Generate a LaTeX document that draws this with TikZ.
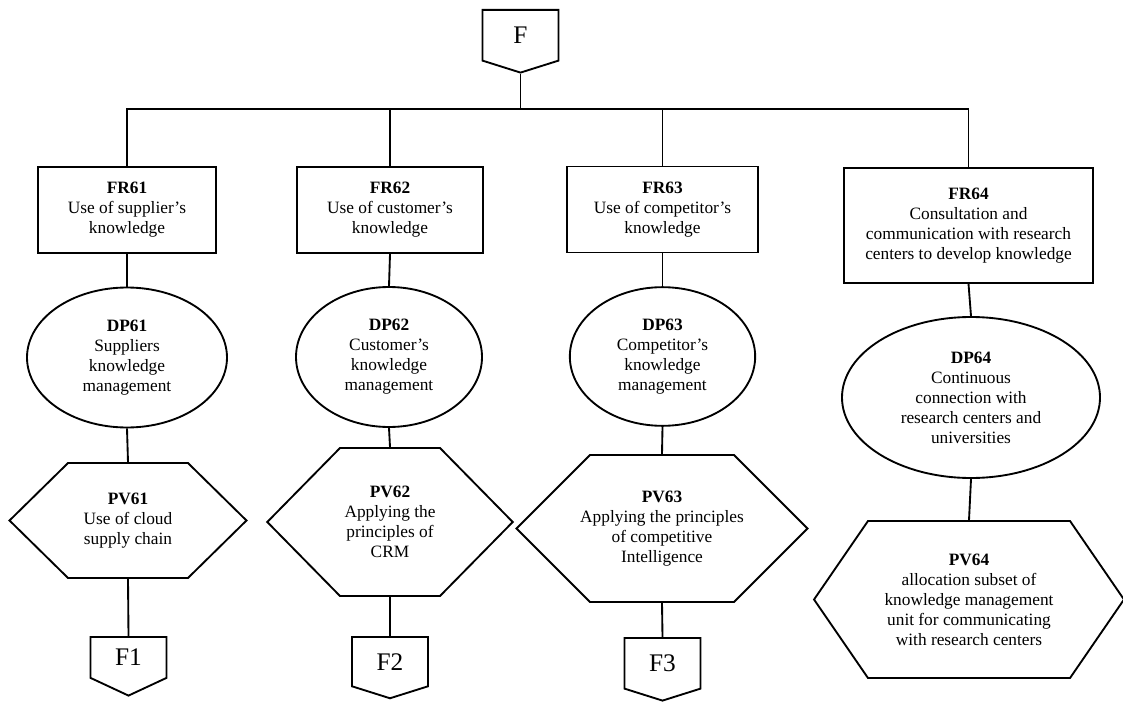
\documentclass[tikz,border=0pt]{standalone}
\usepackage{fontspec}
\setmainfont{Liberation Serif}
\usetikzlibrary{shapes.geometric,shapes.symbols}

\begin{document}
\begin{tikzpicture}[x=0.75pt,y=-0.75pt,line width=1.4pt,
  every node/.style={font=\fontsize{13}{15}\selectfont,align=center},
  frbox/.style={draw,rectangle,inner sep=0pt},
  dpell/.style={draw,ellipse,inner sep=0pt},
  pvhex/.style={draw,signal,signal to=east and west,signal from=nowhere,minimum width=0pt,minimum height=0pt},
  fsig/.style={draw,signal,signal to=south,signal from=nowhere,signal pointer angle=145,text width=57pt,inner xsep=0pt,inner ysep=0pt,minimum height=46pt,anchor=north,font=\fontsize{19}{22}\selectfont}]
\useasboundingbox (0,0) rectangle (1123,702);

\node[fsig,minimum height=47pt] (f) at (520.5,9) {F};
\coordinate (bus) at (520.5,109);

\node[frbox,minimum width=133pt,minimum height=64.5pt] (fr61) at (127,210) {\textbf{FR61}\\Use of supplier’s\\knowledge};
\node[frbox,minimum width=139.5pt,minimum height=64.5pt] (fr62) at (390,210) {\textbf{FR62}\\Use of customer’s\\knowledge};
\node[frbox,minimum width=143pt,minimum height=64.5pt] (fr63) at (662.5,209.5) {\textbf{FR63}\\Use of competitor’s\\knowledge};
\node[frbox,minimum width=187pt,minimum height=86pt] (fr64) at (968.5,225.5) {\textbf{FR64}\\Consultation and\\communication with research\\centers to develop knowledge};

\node[dpell,minimum width=150pt,minimum height=105pt] (dp61) at (127,357.5) {\textbf{DP61}\\Suppliers\\knowledge\\management};
\node[dpell,minimum width=139.5pt,minimum height=105pt] (dp62) at (389,357) {\textbf{DP62}\\Customer’s\\knowledge\\management};
\node[dpell,minimum width=139pt,minimum height=104pt] (dp63) at (662.5,356.5) {\textbf{DP63}\\Competitor’s\\knowledge\\management};
\node[dpell,minimum width=193.5pt,minimum height=120.75pt] (dp64) at (971,397.5) {\textbf{DP64}\\Continuous\\connection with\\research centers and\\universities};

\node[pvhex,inner xsep=45pt,inner ysep=43.1pt,signal pointer angle=89,
  label={center:{\textbf{PV61}\\Use of cloud\\supply chain}}] (pv61) at (128,520.5) {};
\node[pvhex,inner xsep=37.5pt,inner ysep=55.5pt,signal pointer angle=91,
  label={center:{\textbf{PV62}\\Applying the\\principles of\\CRM}}] (pv62) at (390,522) {};
\node[pvhex,inner xsep=54pt,inner ysep=55.1pt,signal pointer angle=90,
  label={center:{\textbf{PV63}\\Applying the principles\\of competitive\\Intelligence}}] (pv63) at (662,528.5) {};
\node[pvhex,inner xsep=75.75pt,inner ysep=58.9pt,signal pointer angle=111,
  label={center:{\textbf{PV64}\\allocation subset of\\knowledge management\\unit for communicating\\with research centers}}] (pv64) at (969,599.5) {};

\node[fsig,minimum height=44pt,signal pointer angle=130] (f1) at (128.5,636) {F1};
\node[fsig] (f2) at (390,636) {F2};
\node[fsig,minimum height=47pt] (f3) at (662.5,637) {F3};

\draw (f.south) -- (bus);
\draw (fr61.north) -- (fr61.north |- bus) -- (fr64.north |- bus) -- (fr64.north);
\draw (fr62.north) -- (fr62.north |- bus);
\draw (fr63.north) -- (fr63.north |- bus);
\foreach \i in {61,62,63,64} {
  \draw (fr\i.south) -- (dp\i.north);
  \draw (dp\i.south) -- (pv\i.north);
}
\foreach \i in {1,2,3}
  \draw (pv6\i.south) -- (f\i.north);
\end{tikzpicture}
\end{document}
